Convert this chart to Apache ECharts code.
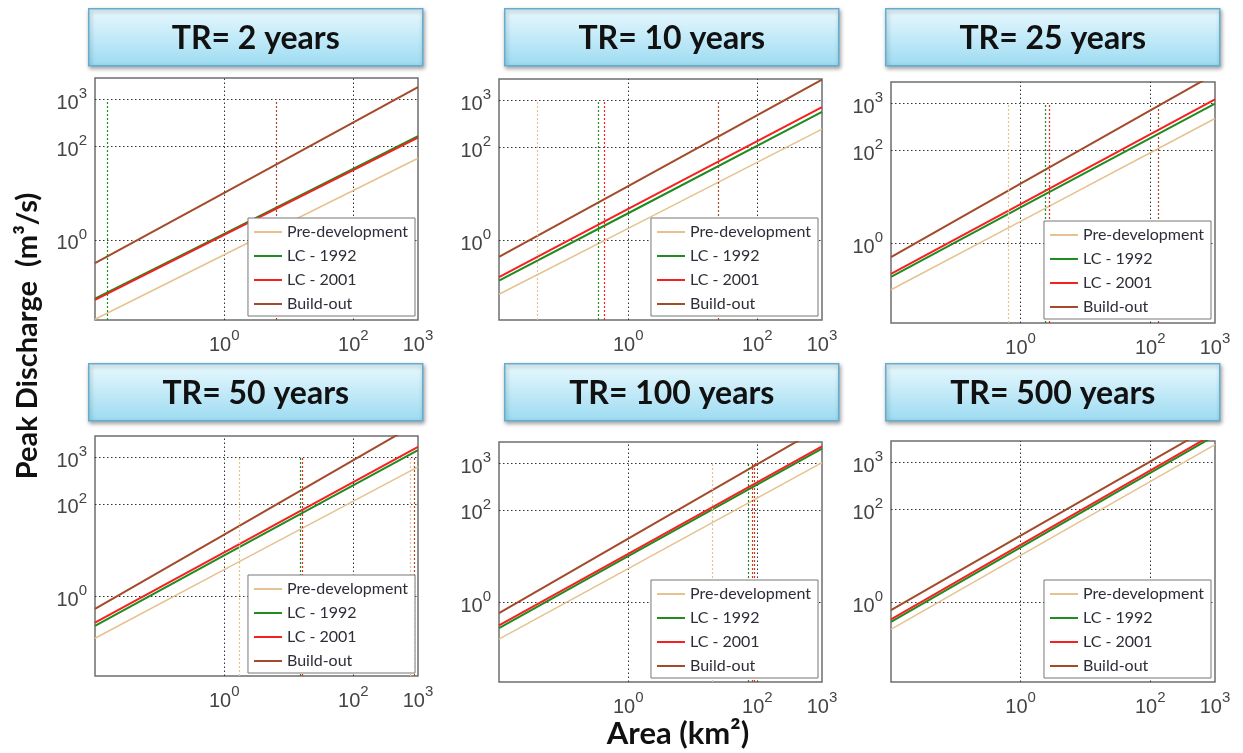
<!DOCTYPE html>
<html>
<head>
<meta charset="utf-8">
<script src="https://cdn.jsdelivr.net/npm/echarts@6/dist/echarts.min.js"></script>
<style>
  html, body { margin: 0; padding: 0; background: #fff; }
  #chart { width: 1243px; height: 753px; }
</style>
</head>
<body>
<div id="chart"></div>
<script>
// panel titles (return periods)
var panelTitles = ['TR= 2 years', 'TR= 10 years', 'TR= 25 years', 'TR= 50 years', 'TR= 100 years', 'TR= 500 years'];
var seriesNames = ['Pre-development', 'LC - 1992', 'LC - 2001', 'Build-out'];

// area (km2) where each curve is sampled
var areas = [0.01, 1, 1000];

// peak discharge (m3/s) at the areas above, one row per panel
var preDev = [
    [0.020, 0.48, 56], [0.069, 1.8, 245], [0.10, 2.95, 480],
    [0.126, 3.8, 630], [0.162, 5.4, 1050], [0.26, 10.2, 2450]
];
var lc1992 = [
    [0.055, 1.35, 166], [0.135, 3.8, 575], [0.19, 5.9, 1000],
    [0.234, 7.7, 1450], [0.28, 10, 2090], [0.38, 15.1, 3800]
];
var lc2001 = [
    [0.052, 1.28, 155], [0.162, 4.7, 725], [0.22, 6.9, 1230],
    [0.275, 9.0, 1700], [0.32, 11.2, 2340], [0.43, 17, 4270]
];
var buildOut = [
    [0.32, 10.2, 1860], [0.44, 14.5, 2820], [0.50, 19, 4370],
    [0.54, 21.8, 5600], [0.59, 24, 6170], [0.68, 27, 6600]
];

// dotted vertical markers (area, km2) per panel
var preMarks = [[], [0.039], [0.65], [1.7, 760], [20], []];
var lc1992Marks = [[0.0155], [0.34], [2.4], [14.8], [72], []];
var lc2001Marks = [[], [0.43], [2.8], [16.2], [83], []];
var buildOutMarks = [[6.5], [25], [135], [870], [90], []];
var markTop = 1000;

// axis ranges and labelled decades
var xMin = 0.01, xMax = 1000;
var yMin = 0.0193, yMax = 2920;
var xTickExps = [0, 2, 3];
var yTickExps = [0, 2, 3];
var xGridLines = [1, 100];
var yGridLines = [1, 100, 1000];

var colors = ['#e5c28f', '#1e8c1e', '#f52020', '#a34a2a'];
var lineWidths = [1.5, 2, 2, 2];

var gridBoxes = [
    { left: 95, top: 78, width: 323, height: 242 },
    { left: 499, top: 79, width: 323, height: 241 },
    { left: 891, top: 82, width: 324, height: 241 },
    { left: 95, top: 436, width: 323, height: 240 },
    { left: 499, top: 442, width: 323, height: 240 },
    { left: 891, top: 441, width: 324, height: 241 }
];
var titleBoxes = [
    { x: 88, y: 8 }, { x: 504, y: 8 }, { x: 885, y: 8 },
    { x: 88, y: 363 }, { x: 504, y: 363 }, { x: 885, y: 363 }
];
var legendPos = [
    { right: 828, bottom: 437 }, { right: 425, bottom: 437 }, { right: 32, bottom: 434 },
    { right: 828, bottom: 80 }, { right: 425, bottom: 75 }, { right: 32, bottom: 75 }
];

var dom = document.getElementById('chart');
var chart = echarts.init(dom, null, { renderer: 'canvas' });

function powLabel(shown) {
    return function (v) {
        var l = Math.log10(v);
        var e = Math.round(l);
        if (Math.abs(l - e) > 1e-6 || shown.indexOf(e) < 0) return '';
        return '{b|10}{s|' + e + '}';
    };
}
var labelRich = {
    b: { fontSize: 20, fontFamily: 'Liberation Sans', color: '#444', lineHeight: 34 },
    s: { fontSize: 15, fontFamily: 'Liberation Sans', color: '#444', lineHeight: 15, verticalAlign: 'top' }
};

var grids = [], xAxes = [], yAxes = [], series = [], legends = [], graphics = [];
var allValues = [preDev, lc1992, lc2001, buildOut];
var allMarks = [preMarks, lc1992Marks, lc2001Marks, buildOutMarks];

gridBoxes.forEach(function (g, i) {
    grids.push({
        left: g.left, top: g.top, width: g.width, height: g.height,
        show: true, borderColor: '#6e6e6e', borderWidth: 1.5, backgroundColor: '#fff'
    });
    xAxes.push({
        gridIndex: i, type: 'log', logBase: 10, min: xMin, max: xMax,
        axisLine: { show: false }, axisTick: { show: false }, splitLine: { show: false },
        axisLabel: { formatter: powLabel(xTickExps), rich: labelRich, margin: 8, hideOverlap: false }
    });
    yAxes.push({
        gridIndex: i, type: 'log', logBase: 10, min: yMin, max: yMax,
        axisLine: { show: false }, axisTick: { show: false }, splitLine: { show: false },
        axisLabel: { formatter: powLabel(yTickExps), rich: labelRich, margin: 8, padding: [8, 0, 0, 0], hideOverlap: false }
    });

    seriesNames.forEach(function (name, s) {
        var vals = allValues[s][i];
        var marks = allMarks[s][i].map(function (a) {
            return [{ coord: [a, yMin] }, { coord: [a, markTop] }];
        });
        series.push({
            type: 'line', name: name, xAxisIndex: i, yAxisIndex: i,
            data: areas.map(function (a, k) { return [a, vals[k]]; }),
            showSymbol: false, symbol: 'none', silent: true,
            color: colors[s],
            lineStyle: { color: colors[s], width: lineWidths[s] },
            z: 2 + s * 0.1,
            markLine: {
                silent: true, symbol: ['none', 'none'], z: 3,
                label: { show: false },
                lineStyle: { color: colors[s], type: [2, 2], width: 1.2 },
                data: marks
            }
        });
    });
    // dotted grid lines
    series.push({
        type: 'line', name: 'grid' + i, xAxisIndex: i, yAxisIndex: i, data: [],
        silent: true, symbol: 'none',
        markLine: {
            silent: true, symbol: ['none', 'none'], z: 1,
            label: { show: false },
            lineStyle: { color: '#333', type: [1.5, 2.5], width: 1 },
            data: xGridLines.map(function (v) { return { xAxis: v }; })
                .concat(yGridLines.map(function (v) { return { yAxis: v }; }))
        }
    });

    legends.push({
        orient: 'vertical', right: legendPos[i].right, bottom: legendPos[i].bottom,
        data: seriesNames, z: 10,
        backgroundColor: '#fff', borderColor: '#777', borderWidth: 1,
        padding: [5, 7, 3, 6], itemGap: 6, itemWidth: 28, itemHeight: 2,
        icon: 'rect',
        selectedMode: false,
        textStyle: { fontFamily: 'Lato', fontSize: 16, color: '#2e2e38', lineHeight: 18 }
    });

    var tb = titleBoxes[i];
    graphics.push({
        type: 'group', left: tb.x, top: tb.y,
        children: [
            {
                type: 'rect', shape: { x: 0, y: 0, width: 334, height: 57 },
                style: {
                    fill: new echarts.graphic.LinearGradient(0, 0, 0, 1, [
                        { offset: 0, color: '#eaf9fe' },
                        { offset: 1, color: '#9cdbf2' }
                    ]),
                    stroke: '#62aed0', lineWidth: 1.5,
                    shadowBlur: 4, shadowOffsetX: 1, shadowOffsetY: 2, shadowColor: 'rgba(0,0,0,0.35)'
                }
            },
            {
                type: 'text', x: 167, y: 30,
                style: {
                    text: panelTitles[i], fill: '#111',
                    font: 'bold 32px Lato', align: 'center', verticalAlign: 'middle'
                }
            }
        ]
    });
});

graphics.push({
    type: 'text', x: 28, y: 336, rotation: Math.PI / 2,
    style: { text: 'Peak Discharge  (m³/s)', fill: '#111', font: 'bold 29px Lato', align: 'center', verticalAlign: 'middle' }
});
graphics.push({
    type: 'text', x: 678, y: 734,
    style: { text: 'Area (km²)', fill: '#111', font: 'bold 31px Lato', align: 'center', verticalAlign: 'middle' }
});

var option = {
    backgroundColor: '#fff',
    animation: false,
    grid: grids,
    xAxis: xAxes,
    yAxis: yAxes,
    legend: legends,
    series: series,
    graphic: graphics
};

chart.setOption(option);
window.addEventListener('resize', chart.resize);
</script>
</body>
</html>
